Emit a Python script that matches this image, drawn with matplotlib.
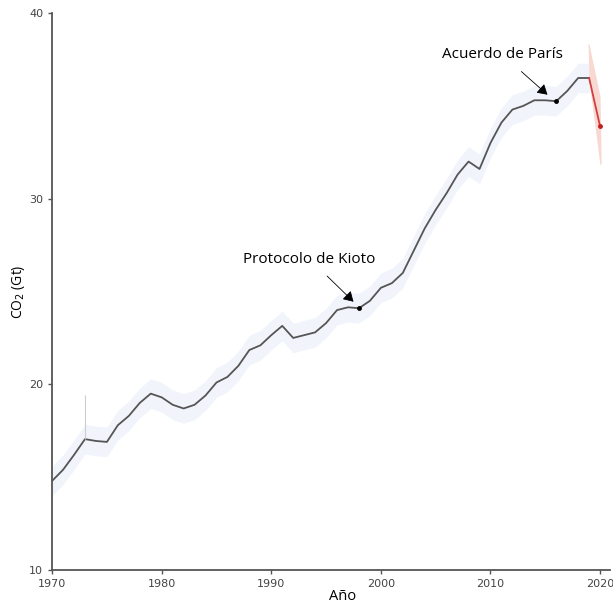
import numpy as np
import matplotlib.pyplot as plt

years = np.arange(1970, 2020)
co2 = [14.8, 15.4, 16.2, 17.05, 16.95, 16.9, 17.8, 18.3, 19.0, 19.5,
       19.3, 18.9, 18.7, 18.9, 19.4, 20.1, 20.4, 21.0, 21.85, 22.1,
       22.65, 23.15, 22.5, 22.65, 22.8, 23.3, 24.0, 24.15, 24.1, 24.5,
       25.2, 25.45, 26.0, 27.2, 28.4, 29.4, 30.3, 31.3, 32.0, 31.6,
       33.0, 34.1, 34.8, 35.0, 35.3, 35.3, 35.25, 35.8, 36.5, 36.5]
band = 0.8

proj_years = [2018.9, 2019, 2020, 2020.1]
proj_low = [38.3, 36.3, 31.8, 31.9]
proj_high = [38.4, 38.3, 35.5, 32.0]
proj_line_x = [2019, 2020]
proj_co2 = [36.5, 33.9]

events = ["Protocolo de Kioto", "Acuerdo de París"]
event_years = [1998, 2016]

fig = plt.figure(figsize=(6.13, 6.06), dpi=100)
ax = fig.add_axes([0.085, 0.0594, 0.91, 0.9191])

co2 = np.array(co2)
ax.fill_between(years, co2 - band, co2 + band,
                color="#f1f5fb", lw=0)
ax.fill_between(proj_years, proj_low, proj_high, color="#f9d8d2", lw=0)
ax.plot(years, co2, color="#555555", lw=1.3)
ax.plot(proj_line_x, proj_co2, color="#d04040", lw=1.3)
ax.plot(proj_line_x[-1], proj_co2[-1], "o", color="#c02020", ms=2.5)
ax.vlines(1973, 17.05, 19.4, color="#cccccc", lw=0.8)

for name, yr in zip(events, event_years):
    ax.plot(yr, co2[yr - 1970], "o", color="black", ms=2.5)

arrow = dict(arrowstyle="-|>,head_length=0.5,head_width=0.3", color="black",
             lw=0.6, shrinkA=7, shrinkB=0, mutation_scale=12)
ax.annotate(events[0], xy=(1997.5, 24.45), xytext=(1993.5, 26.75),
            ha="center", va="center", fontsize=11, family="Open Sans",
            arrowprops=arrow)
ax.annotate(events[1], xy=(2015.2, 35.6), xytext=(2011.1, 37.75),
            ha="center", va="center", fontsize=11, family="Open Sans",
            arrowprops=arrow)

ax.set_xlim(1970, 2020.9)
ax.set_ylim(10, 40)
ax.set_xticks([1970, 1980, 1990, 2000, 2010, 2020])
ax.set_yticks([10, 20, 30, 40])
for s in ["top", "right"]:
    ax.spines[s].set_visible(False)
for s in ["left", "bottom"]:
    ax.spines[s].set_color("#555555")
    ax.spines[s].set_linewidth(1.3)
ax.tick_params(colors="#555555", labelcolor="#444444", labelsize=8,
               length=3, width=1)
ax.set_xlabel("Año", family="Open Sans", fontsize=10.5)
ax.xaxis.set_label_coords(0.52, -0.035)
ax.set_ylabel("CO$_2$ (Gt)", family="Open Sans", fontsize=10)
ax.yaxis.set_label_coords(-0.045, 0.5)

fig.savefig("out.png", dpi=100)
